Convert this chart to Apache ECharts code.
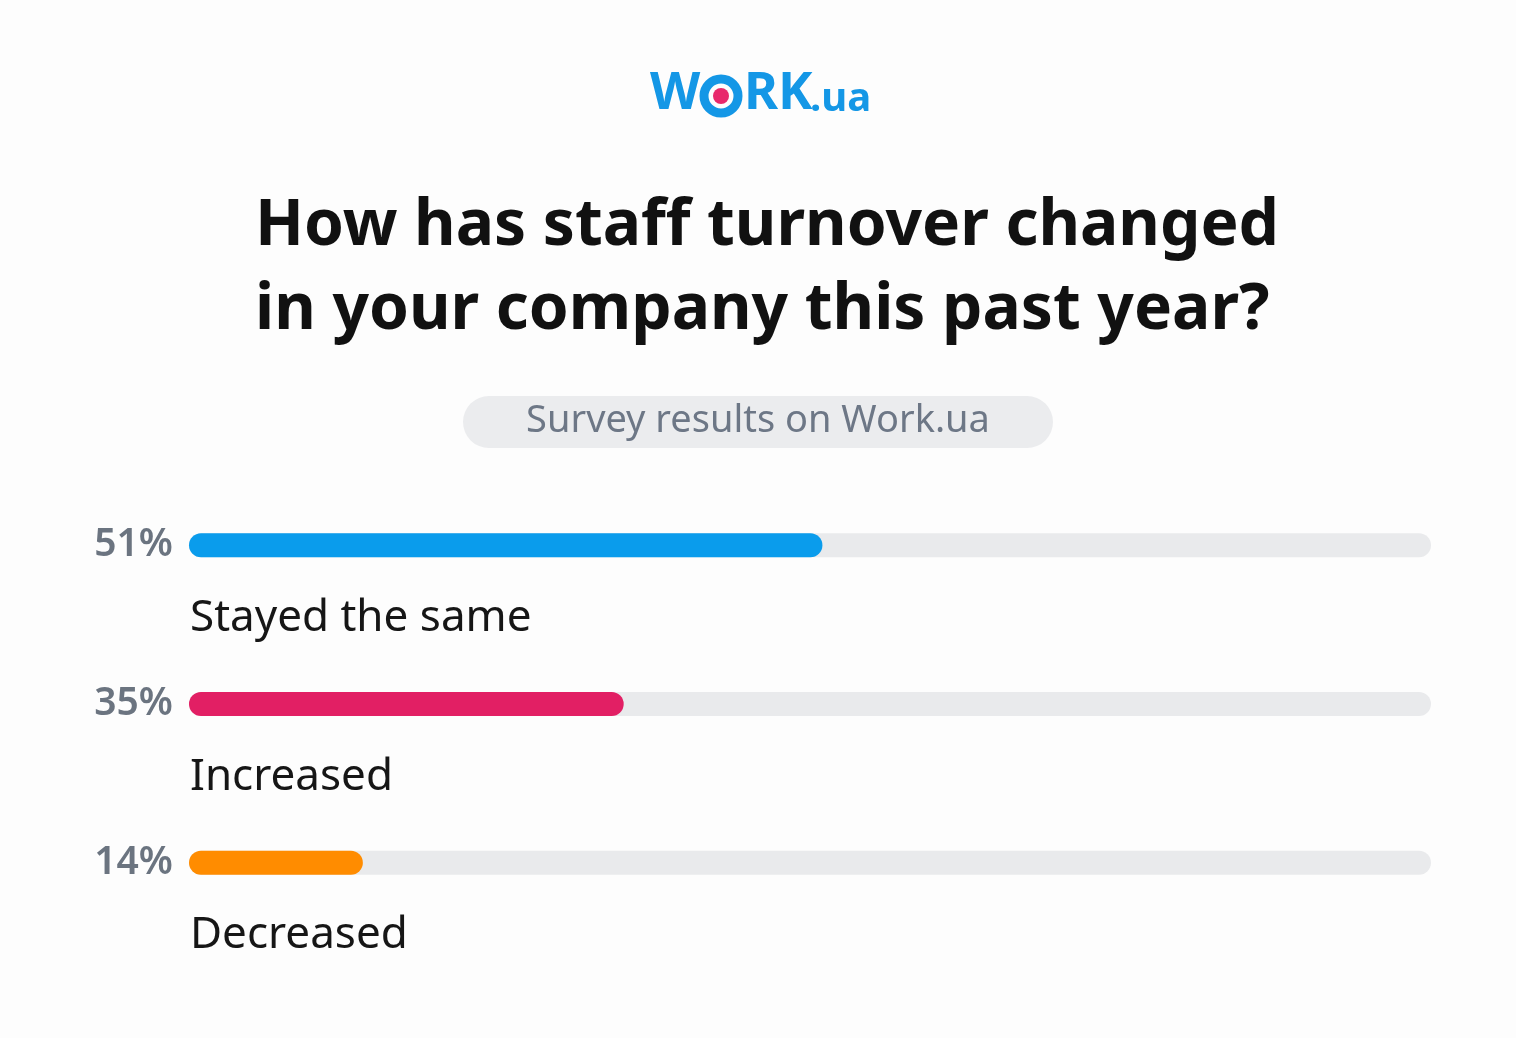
<!DOCTYPE html>
<html>
<head>
<meta charset="utf-8">
<title>Staff turnover</title>
<script src="https://cdn.jsdelivr.net/npm/echarts@6/dist/echarts.min.js"></script>
<style>
  html, body { margin: 0; padding: 0; background: #fdfdfd; }
  #chart { width: 1516px; height: 1038px; }
</style>
</head>
<body>
<div id="chart"></div>
<script>
// survey answers, top to bottom
const categories = ['Stayed the same', 'Increased', 'Decreased']
const values = [51, 35, 14]
const percentLabels = ['51%', '35%', '14%']
const barColors = ['#0a9cec', '#e21f64', '#ff8c00']

const chart = echarts.init(document.getElementById('chart'))
const font = '"Noto Sans", sans-serif'

const option = {
  backgroundColor: '#fdfdfd',
  textStyle: { fontFamily: font },
  title: {
    text: 'How has staff turnover changed\nin your company this past year?',
    left: 250,
    top: 180,
    textStyle: {
      fontFamily: font,
      fontSize: 64,
      fontWeight: 'bold',
      color: '#111111',
      lineHeight: 84
    }
  },
  graphic: [
    // logo
    { type: 'text', left: 650, top: 68, style: { text: 'W', font: 'bold 52px ' + font, fill: '#1497e6' } },
    { type: 'circle', shape: { cx: 721, cy: 96, r: 17 }, style: { fill: 'none', stroke: '#1497e6', lineWidth: 9 } },
    { type: 'circle', shape: { cx: 721, cy: 96, r: 8 }, style: { fill: '#e8286b' } },
    { type: 'text', left: 744, top: 68, style: { text: 'RK', font: 'bold 52px ' + font, fill: '#1497e6' } },
    { type: 'text', left: 810, top: 80, style: { text: '.ua', font: 'bold 40px ' + font, fill: '#1497e6' } },
    // subtitle pill
    { type: 'rect', shape: { x: 463, y: 396, width: 590, height: 52, r: 26 }, style: { fill: '#ebecee' } },
    {
      type: 'text',
      x: 758,
      y: 421,
      style: {
        text: 'Survey results on Work.ua',
        font: '38px ' + font,
        fill: '#6d7786',
        align: 'center',
        verticalAlign: 'middle'
      }
    }
  ],
  grid: {
    left: 189,
    right: 85,
    top: 466,
    bottom: 96
  },
  xAxis: {
    type: 'value',
    min: 0,
    max: 100,
    show: false
  },
  yAxis: {
    type: 'category',
    inverse: true,
    data: categories,
    axisLine: { show: false },
    axisTick: { show: false },
    axisLabel: {
      margin: 16,
      fontSize: 39,
      fontWeight: 600,
      color: '#6b7480',
      formatter: (val, idx) => percentLabels[idx]
    }
  },
  series: [
    {
      type: 'bar',
      barWidth: 24,
      data: values.map((v, i) => ({
        value: v,
        itemStyle: { color: barColors[i] }
      })),
      itemStyle: { borderRadius: 12 },
      showBackground: true,
      backgroundStyle: { color: '#e9eaec', borderRadius: 12 },
      label: {
        show: true,
        position: [1, 85],
        align: 'left',
        verticalAlign: 'middle',
        fontSize: 44,
        color: '#161616',
        formatter: p => categories[p.dataIndex]
      },
      silent: true
    }
  ]
}

chart.setOption(option)
</script>
</body>
</html>
